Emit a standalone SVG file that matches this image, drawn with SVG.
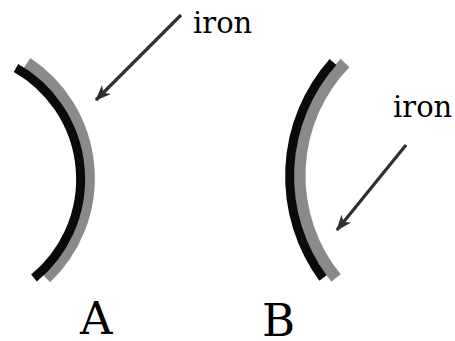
<svg xmlns="http://www.w3.org/2000/svg" width="455" height="341" viewBox="0 0 455 341">
<defs>
<style>
.iron{fill:none;stroke:#8a8a8a;stroke-width:12;stroke-linecap:butt}
.blk{fill:none;stroke:#0a0a0a;stroke-width:9;stroke-linecap:butt}
.arr{fill:none;stroke:#2e2e2e;stroke-width:3.2;marker-end:url(#ah)}
.lbl{font-family:"DejaVu Serif","Liberation Serif",serif;fill:#000}
</style>
<marker id="ah" viewBox="0 0 14 11" refX="13" refY="5.5" markerWidth="5" markerHeight="4" orient="auto" markerUnits="strokeWidth">
<path d="M0,0 L14,5.5 L0,11 L4,5.5 Z" fill="#2e2e2e"/>
</marker>
</defs>
<rect width="455" height="341" fill="#fff"/>
<g id="mirrorA">
<path class="iron" d="M27,63 A138,138 0 0 1 46,278"/>
<path class="blk" d="M16,68 A128,128 0 0 1 34,278"/>
</g>
<g id="mirrorB">
<path class="iron" d="M345,63 A162,162 0 0 0 336,278"/>
<path class="blk" d="M333,62 A172,172 0 0 0 323,278"/>
</g>
<g id="connectors">
<path class="arr" d="M181,15 L96,100"/>
<path class="arr" d="M406,145 L337,230"/>
</g>
<g id="labels">
<text class="lbl" x="80" y="334" font-size="45">A</text>
<text class="lbl" x="262" y="336" font-size="45">B</text>
<text class="lbl" x="193" y="33" font-size="29">iron</text>
<text class="lbl" x="393" y="117" font-size="29">iron</text>
</g>
</svg>
